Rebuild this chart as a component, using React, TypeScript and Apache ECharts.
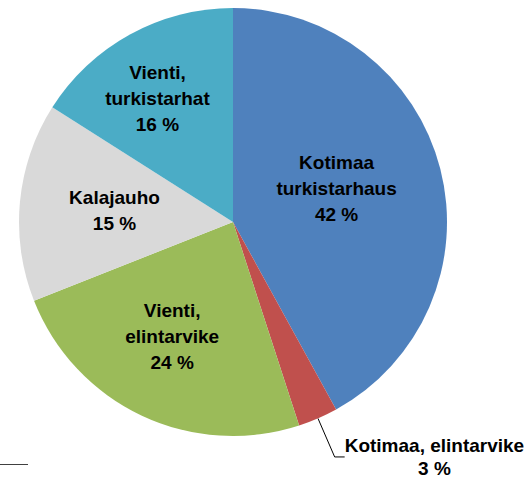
import React, { useEffect, useRef } from "react";
import * as echarts from "echarts";

const categories = [
  "Kotimaa\nturkistarhaus",
  "Kotimaa, elintarvike",
  "Vienti,\nelintarvike",
  "Kalajauho",
  "Vienti,\nturkistarhat",
];
const values = [42, 3, 24, 15, 16];
const colors = ["#4F81BD", "#C0504D", "#9BBB59", "#D9D9D9", "#4BACC6"];
const labelRadius = [109, 0, 130, 119, 145];
const labelAngleOffset = [-3.7, 0, 2.7, 0, -2.6];

const CX = 233;
const CY = 222;
const R = 214;

export default function App() {
  const ref = useRef<HTMLDivElement>(null);
  useEffect(() => {
    if (!ref.current) return;
    const chart = echarts.init(ref.current, undefined, { renderer: "svg" });
    const font = "'Liberation Sans', Arial, sans-serif";
    const total = values.reduce((a, b) => a + b, 0);
    const midAngles: number[] = [];
    let cum = 0;
    values.forEach((v) => {
      midAngles.push(((cum + v / 2) / total) * 360);
      cum += v;
    });
    chart.setOption({
      animation: false,
      series: [
        {
          type: "pie",
          center: [CX, CY],
          radius: [0, R],
          startAngle: 90,
          clockwise: true,
          avoidLabelOverlap: false,
          label: {
            show: true,
            position: "inside",
            formatter: (p: any) => `${p.name}\n${p.value} %`,
            fontFamily: font,
            fontWeight: "bold",
            fontSize: 19,
            lineHeight: 26,
            color: "#000",
            align: "center",
          },
          labelLine: { show: false },
          data: values.map((v, i) => {
            const item: any = {
              name: categories[i],
              value: v,
              itemStyle: { color: colors[i] },
            };
            if (i === 1) {
              item.label = {
                position: "outside",
                align: "left",
                distanceToLabelLine: 0,
                formatter: (p: any) => `{a|${p.name}}\n{a|${p.value} %}`,
                rich: {
                  a: {
                    align: "center",
                    fontFamily: font,
                    fontWeight: "bold",
                    fontSize: 19,
                    lineHeight: 23,
                    color: "#000",
                  },
                },
              };
              item.labelLine = {
                show: true,
                length: 42,
                length2: 10,
                lineStyle: { color: "#000", width: 1 },
              };
            }
            return item;
          }),
          labelLayout: (params: any) => {
            const i = params.dataIndex;
            if (i === 1) return {};
            const rect = params.labelRect;
            const lx = rect.x + rect.width / 2;
            const ly = rect.y + rect.height / 2;
            const a = ((midAngles[i] + labelAngleOffset[i]) * Math.PI) / 180;
            const tx = CX + labelRadius[i] * Math.sin(a);
            const ty = CY - labelRadius[i] * Math.cos(a);
            return { dx: tx - lx, dy: ty - ly };
          },
        },
      ],
      graphic: [
        {
          type: "line",
          shape: { x1: 0, y1: 464.5, x2: 28, y2: 464.5 },
          style: { stroke: "#404040", lineWidth: 1 },
        },
      ],
    });
    return () => chart.dispose();
  }, []);
  return <div ref={ref} style={{ width: 531, height: 477, position: "absolute", left: 0, top: 0 }} />;
}
